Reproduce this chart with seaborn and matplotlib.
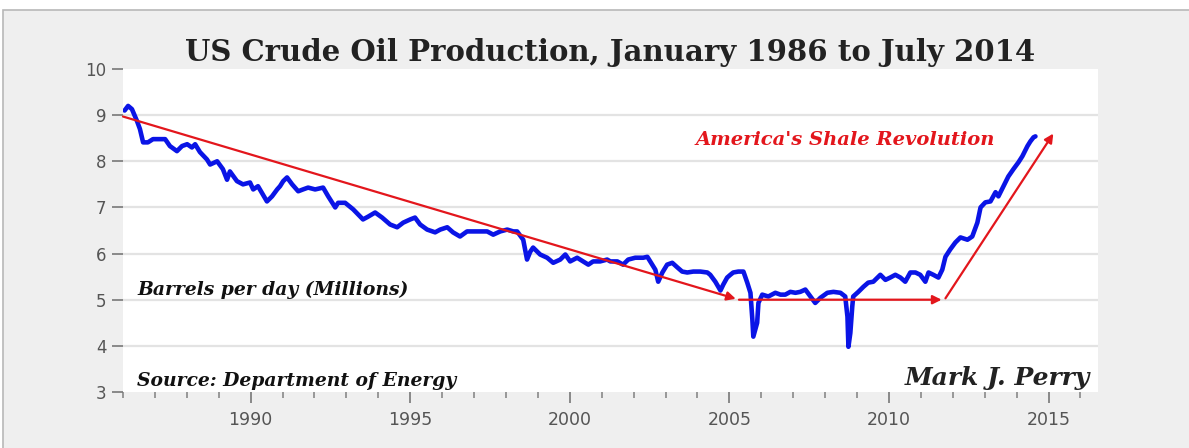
import numpy as np
import pandas as pd
import seaborn as sns
import matplotlib.pyplot as plt
from matplotlib.patches import Rectangle

# Data (decimal year, million barrels per day)
years = [
    1986.05, 1986.16, 1986.28, 1986.44, 1986.53, 1986.63, 1986.78, 1986.94, 1987.16, 1987.32,
    1987.47, 1987.69, 1987.85, 1988.01, 1988.16, 1988.26, 1988.41, 1988.63, 1988.73, 1988.95,
    1989.13, 1989.26, 1989.35, 1989.57, 1989.76, 1989.98, 1990.08, 1990.23, 1990.51, 1990.67,
    1990.83, 1990.92, 1991.02, 1991.14, 1991.30, 1991.49, 1991.64, 1991.80, 1992.02, 1992.27,
    1992.43, 1992.65, 1992.74, 1992.96, 1993.21, 1993.52, 1993.68, 1993.90, 1994.12, 1994.37,
    1994.59, 1994.78, 1995.00, 1995.15, 1995.31, 1995.53, 1995.78, 1995.94, 1996.16, 1996.34,
    1996.56, 1996.78, 1996.97, 1997.19, 1997.41, 1997.60, 1997.82, 1998.04, 1998.23, 1998.35,
    1998.54, 1998.66, 1998.76, 1998.85, 1999.07, 1999.29, 1999.48, 1999.70, 1999.86, 2000.01,
    2000.23, 2000.42, 2000.58, 2000.73, 2000.95, 2001.17, 2001.27, 2001.49, 2001.67, 2001.83,
    2002.05, 2002.30, 2002.43, 2002.52, 2002.68, 2002.77, 2002.90, 2003.05, 2003.21, 2003.37,
    2003.52, 2003.68, 2003.87, 2004.09, 2004.31, 2004.40, 2004.56, 2004.72, 2004.81, 2004.93,
    2005.03, 2005.12, 2005.28, 2005.44, 2005.56, 2005.66, 2005.72, 2005.75, 2005.87, 2005.91,
    2006.03, 2006.22, 2006.44, 2006.60, 2006.75, 2006.91, 2007.07, 2007.22, 2007.38, 2007.54,
    2007.69, 2007.85, 2008.07, 2008.26, 2008.48, 2008.63, 2008.70, 2008.73, 2008.79, 2008.85,
    2008.88, 2009.04, 2009.20, 2009.35, 2009.51, 2009.73, 2009.89, 2010.04, 2010.20, 2010.36,
    2010.51, 2010.67, 2010.83, 2010.98, 2011.14, 2011.24, 2011.39, 2011.55, 2011.67, 2011.77,
    2011.92, 2012.08, 2012.24, 2012.46, 2012.61, 2012.77, 2012.87, 2013.02, 2013.18, 2013.34,
    2013.43, 2013.59, 2013.74, 2013.90, 2014.06, 2014.18, 2014.34, 2014.43, 2014.53, 2014.59,
]
production = [
    9.10, 9.20, 9.13, 8.87, 8.70, 8.41, 8.41, 8.48, 8.48, 8.48,
    8.33, 8.22, 8.33, 8.37, 8.30, 8.37, 8.20, 8.04, 7.93, 8.00,
    7.83, 7.60, 7.78, 7.57, 7.50, 7.54, 7.39, 7.46, 7.13, 7.24,
    7.39, 7.46, 7.57, 7.65, 7.50, 7.35, 7.39, 7.43, 7.39, 7.43,
    7.24, 7.00, 7.10, 7.10, 6.96, 6.74, 6.80, 6.89, 6.78, 6.63,
    6.57, 6.67, 6.74, 6.78, 6.63, 6.52, 6.46, 6.52, 6.57, 6.46,
    6.37, 6.48, 6.48, 6.48, 6.48, 6.41, 6.48, 6.52, 6.48, 6.48,
    6.30, 5.87, 6.04, 6.13, 5.98, 5.91, 5.80, 5.87, 5.98, 5.83,
    5.91, 5.83, 5.76, 5.83, 5.83, 5.87, 5.83, 5.83, 5.76, 5.87,
    5.91, 5.91, 5.93, 5.83, 5.65, 5.39, 5.59, 5.76, 5.80, 5.70,
    5.61, 5.59, 5.61, 5.61, 5.59, 5.54, 5.39, 5.20, 5.33, 5.48,
    5.54, 5.59, 5.61, 5.61, 5.37, 5.15, 4.57, 4.20, 4.50, 4.93,
    5.11, 5.07, 5.15, 5.11, 5.11, 5.17, 5.15, 5.17, 5.22, 5.07,
    4.93, 5.04, 5.15, 5.17, 5.15, 5.07, 4.63, 3.98, 4.28, 4.85,
    5.07, 5.17, 5.28, 5.37, 5.39, 5.54, 5.43, 5.48, 5.54, 5.48,
    5.39, 5.59, 5.59, 5.54, 5.39, 5.59, 5.54, 5.48, 5.65, 5.93,
    6.09, 6.24, 6.35, 6.30, 6.37, 6.67, 7.00, 7.11, 7.13, 7.33,
    7.24, 7.46, 7.67, 7.83, 7.98, 8.11, 8.33, 8.43, 8.52, 8.54,
]
df = pd.DataFrame({"year": years, "production": production})

# Red trend arrows (start, end) in data units
trend_arrows = [
    ((1986.0, 8.97), (2005.2, 5.02)),
    ((2005.3, 5.0), (2011.65, 5.0)),
    ((2011.77, 5.03), (2015.15, 8.6)),
]

sns.set_style("white")

fig = plt.figure(figsize=(11.89, 4.48), dpi=100, facecolor="white")
# gray panel behind the chart (only top and left border visible)
fig.patches.append(Rectangle((3 / 1189, -0.1), 1.2, 1.1 - 10 / 448, transform=fig.transFigure,
                             facecolor="#efefef", edgecolor="#b8b8b8", lw=1.2, zorder=-10))
ax = fig.add_axes([123 / 1189, 1 - 392 / 448, (1098 - 123) / 1189, (392 - 69) / 448])
ax.set_zorder(5)
ax.set_facecolor("white")

# gridlines
for v in range(4, 10):
    ax.axhline(v, color="#e3e3e3", lw=1.6, zorder=1)

sns.lineplot(data=df, x="year", y="production", color="#0a14e6", lw=3.3, ax=ax, zorder=3)

red = "#e3161c"
for (x0, y0), (x1, y1) in trend_arrows:
    ax.annotate("", xy=(x1, y1), xytext=(x0, y0),
                arrowprops=dict(arrowstyle="-|>", color=red, lw=1.6,
                                mutation_scale=13, shrinkA=0, shrinkB=0), zorder=4)

ax.set_xlim(1986.0, 2016.55)
ax.set_ylim(3, 10)
ax.set_xticks(range(1990, 2016, 5))
ax.set_xticks(range(1986, 2017), minor=True)
ax.set_yticks(range(3, 11))
ax.set_xlabel("")
ax.set_ylabel("")
for s in ax.spines.values():
    s.set_visible(False)
ax.tick_params(axis="y", which="major", direction="out", length=8, width=1.2,
               color="#777777", labelcolor="#555555", labelsize=12, pad=4, left=True)
ax.tick_params(axis="x", which="major", direction="out", length=8, width=1.2,
               color="#777777", labelcolor="#555555", labelsize=12.5, pad=6, bottom=True)
ax.tick_params(axis="x", which="minor", direction="out", length=4, width=1.2,
               color="#888888", bottom=True)

ax.set_title("US Crude Oil Production, January 1986 to July 2014",
             family="DejaVu Serif", fontweight="bold", fontsize=21, color="#222222", pad=6)

ax.text(1986.45, 5.22, "Barrels per day (Millions)", family="DejaVu Serif",
        style="italic", fontweight="bold", fontsize=13.5, color="#111111", va="center")
ax.text(1986.45, 3.24, "Source: Department of Energy", family="DejaVu Serif",
        style="italic", fontweight="bold", fontsize=13.5, color="#111111", va="center")
ax.text(2003.95, 8.46, "America's Shale Revolution", family="DejaVu Serif",
        style="italic", fontweight="bold", fontsize=14, color=red, va="center")
ax.text(2016.3, 3.3, "Mark J. Perry", family="DejaVu Serif", style="italic",
        fontweight="bold", fontsize=18, color="#222222", ha="right", va="center")

fig.savefig("out.png", dpi=100, facecolor=fig.get_facecolor())
